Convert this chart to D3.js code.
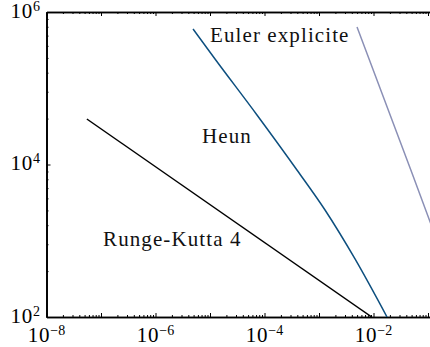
<!DOCTYPE html>
<html>
<head>
<meta charset="utf-8">
<script src="https://cdn.jsdelivr.net/npm/d3@7"></script>
<style>
    html, body { margin: 0; padding: 0; background: #fff; }
</style>
</head>
<body>
<svg id="chart" width="430" height="347"></svg>
<script>
// Coût (nombre de pas) en fonction de l'erreur, axes log-log
const xMajorTicks = [1e-8, 1e-7, 1e-6, 1e-5, 1e-4, 1e-3, 1e-2, 1e-1, 1e0];
const xLabelTicks = [1e-8, 1e-6, 1e-4, 1e-2];
const xLabelExps = ["−8", "−6", "−4", "−2"];
const yMajorTicks = [1e2, 1e4, 1e6];
const yLabelTicks = [1e2, 1e4, 1e6];
const yLabelExps = ["2", "4", "6"];
const minorFactors = [2, 3, 4, 5, 6, 7, 8, 9];

const seriesNames = ["Euler explicite", "Heun", "Runge-Kutta 4"];
const eulerErr = [4.98e-3, 5.08e-2, 0.115];
const eulerN = [6.35e5, 7.74e3, 1.6e3];
const heunErr = [4.88e-6, 1.236e-5, 7.28e-5, 3.94e-4, 1.29e-3, 4.58e-3, 1.77e-2];
const heunN = [5.98e5, 2.42e5, 4.46e4, 8.47e3, 2.53e3, 577, 100];
const rk4Err = [5.5e-8, 9.3e-3];
const rk4N = [3.95e4, 100];

// label anchors (data coordinates, baseline-left)
const labelErr = [1e-5, 7.13e-6, 1.09e-7];
const labelN = [4.05e5, 1.91e4, 841];

const margin = { top: 12, left: 46.5 };
const decadeW = 54.5, decadeH = 76.25;
const FONT = "'Liberation Serif'";

const svg = d3.select("#chart");

const x = d3.scaleLog()
    .domain([1e-8, 1e0])
    .range([margin.left, margin.left + 8 * decadeW]);
const y = d3.scaleLog()
    .domain([1e2, 1e6])
    .range([margin.top + 4 * decadeH, margin.top]);

const x0 = x.range()[0], x1 = x.range()[1];
const yTop = y.range()[1], yBot = y.range()[0];

svg.append("clipPath").attr("id", "plot-clip")
    .append("rect")
    .attr("x", x0).attr("y", yTop)
    .attr("width", x1 - x0).attr("height", yBot - yTop);

// minor tick values
const xMinor = [];
xMajorTicks.slice(0, -1).forEach(function (m) {
    minorFactors.forEach(function (k) { xMinor.push(m * k); });
});
const yMinor = [];
yMajorTicks.slice(0, -1).forEach(function (m) {
    minorFactors.forEach(function (k) { yMinor.push(m * k * k); });
});

const styleAxis = function (g) {
    g.selectAll("path").attr("stroke", "#000").attr("stroke-width", 1.7);
    g.selectAll("line").attr("stroke", "#000").attr("stroke-width", 1);
};

// bottom & top axes (ticks pointing inward)
[[yBot, d3.axisBottom], [yTop, d3.axisTop]].forEach(function (p) {
    svg.append("g")
        .attr("transform", "translate(0," + p[0] + ")")
        .call(p[1](x).tickValues(xMinor).tickSize(-2).tickSizeOuter(0).tickFormat(""))
        .call(styleAxis);
    svg.append("g")
        .attr("transform", "translate(0," + p[0] + ")")
        .call(p[1](x).tickValues(xMajorTicks).tickSize(-4).tickSizeOuter(0).tickFormat(""))
        .call(styleAxis);
});

// left axis
svg.append("g")
    .attr("transform", "translate(" + x0 + ",0)")
    .call(d3.axisLeft(y).tickValues(yMinor).tickSize(-2).tickSizeOuter(0).tickFormat(""))
    .call(styleAxis);
svg.append("g")
    .attr("transform", "translate(" + x0 + ",0)")
    .call(d3.axisLeft(y).tickValues(yMajorTicks).tickSize(-4).tickSizeOuter(0).tickFormat(""))
    .call(styleAxis);

// tick labels "10" + superscript exponent
const labelGroup = svg.append("g");
labelGroup.selectAll(".xlab")
    .data(xLabelTicks)
    .enter()
    .append("text")
    .attr("class", "xlab")
    .attr("x", function (d) { return x(d); })
    .attr("y", yBot + 24.7)
    .attr("text-anchor", "middle")
    .attr("font-size", 21)
    .style("font-family", FONT)
    .each(function (d, i) {
        const t = d3.select(this);
        t.append("tspan").attr("letter-spacing", 0.8).text("10");
        t.append("tspan").attr("font-size", 14).attr("dy", -7).text(xLabelExps[i]);
    });

labelGroup.selectAll(".ylab")
    .data(yLabelTicks)
    .enter()
    .append("text")
    .attr("class", "ylab")
    .attr("x", x0 - 6.5)
    .attr("y", function (d) { return y(d) + 5.5; })
    .attr("text-anchor", "end")
    .attr("font-size", 21)
    .style("font-family", FONT)
    .each(function (d, i) {
        const t = d3.select(this);
        t.append("tspan").attr("letter-spacing", 0.8).text("10");
        t.append("tspan").attr("font-size", 14).attr("dy", -7).text(yLabelExps[i]);
    });

// curves
const series = [
    { err: eulerErr, n: eulerN, color: "#8b90b6", curve: d3.curveMonotoneX },
    { err: heunErr, n: heunN, color: "#0d4f7f", curve: d3.curveMonotoneX },
    { err: rk4Err, n: rk4N, color: "#000000", curve: d3.curveLinear }
];

const plot = svg.append("g").attr("clip-path", "url(#plot-clip)");
series.forEach(function (s) {
    const pts = s.err.map(function (e, i) { return [e, s.n[i]]; });
    plot.append("path")
        .datum(pts)
        .attr("fill", "none")
        .attr("stroke", s.color)
        .attr("stroke-width", 1.5)
        .attr("d", d3.line()
            .x(function (d) { return x(d[0]); })
            .y(function (d) { return y(d[1]); })
            .curve(s.curve));
});

// curve names
svg.selectAll(".name")
    .data(seriesNames)
    .enter()
    .append("text")
    .attr("class", "name")
    .attr("x", function (d, i) { return x(labelErr[i]); })
    .attr("y", function (d, i) { return y(labelN[i]); })
    .attr("font-size", 21)
    .attr("letter-spacing", 1.1)
    .attr("fill", "#111")
    .style("font-family", FONT)
    .text(function (d) { return d; });
</script>
</body>
</html>
